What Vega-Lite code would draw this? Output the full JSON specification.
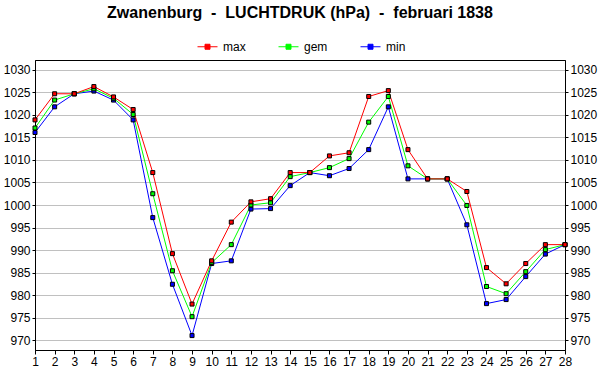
{
  "$schema": "https://vega.github.io/schema/vega-lite/v6.json",
  "autosize": {"type": "none"},
  "width": 530,
  "height": 290,
  "padding": {"left": 35, "top": 60, "right": 35, "bottom": 40},
  "background": "white",
  "config": {
    "font": "Liberation Sans",
    "view": {"stroke": "black", "strokeWidth": 1},
    "axis": {"labelFont": "Liberation Sans", "labelFontSize": 12, "labelColor": "black", "domainColor": "black", "tickColor": "black"}
  },
  "title": {
    "text": "Zwanenburg\u00a0\u00a0-\u00a0\u00a0LUCHTDRUK (hPa)\u00a0\u00a0-\u00a0\u00a0februari 1838",
    "font": "Liberation Sans",
    "fontSize": 16,
    "fontWeight": "bold",
    "color": "black",
    "anchor": "middle",
    "offset": 15
  },
  "data": {"values": [
    {"d":1,"t":"min","v":1016.1},{"d":2,"t":"min","v":1021.8},{"d":3,"t":"min","v":1024.7},{"d":4,"t":"min","v":1025.3},{"d":5,"t":"min","v":1023.3},{"d":6,"t":"min","v":1018.9},{"d":7,"t":"min","v":997.2},{"d":8,"t":"min","v":982.4},{"d":9,"t":"min","v":971.0},{"d":10,"t":"min","v":987.0},{"d":11,"t":"min","v":987.6},{"d":12,"t":"min","v":999.1},{"d":13,"t":"min","v":999.2},{"d":14,"t":"min","v":1004.3},{"d":15,"t":"min","v":1007.2},{"d":16,"t":"min","v":1006.5},{"d":17,"t":"min","v":1008.1},{"d":18,"t":"min","v":1012.3},{"d":19,"t":"min","v":1021.8},{"d":20,"t":"min","v":1005.8},{"d":21,"t":"min","v":1005.8},{"d":22,"t":"min","v":1005.8},{"d":23,"t":"min","v":995.6},{"d":24,"t":"min","v":978.1},{"d":25,"t":"min","v":979.0},{"d":26,"t":"min","v":984.1},{"d":27,"t":"min","v":989.1},{"d":28,"t":"min","v":991.2},
    {"d":1,"t":"gem","v":1017.1},{"d":2,"t":"gem","v":1023.3},{"d":3,"t":"gem","v":1024.7},{"d":4,"t":"gem","v":1025.8},{"d":5,"t":"gem","v":1023.7},{"d":6,"t":"gem","v":1020.1},{"d":7,"t":"gem","v":1002.5},{"d":8,"t":"gem","v":985.4},{"d":9,"t":"gem","v":975.2},{"d":10,"t":"gem","v":987.2},{"d":11,"t":"gem","v":991.2},{"d":12,"t":"gem","v":1000.0},{"d":13,"t":"gem","v":1000.5},{"d":14,"t":"gem","v":1006.3},{"d":15,"t":"gem","v":1007.2},{"d":16,"t":"gem","v":1008.3},{"d":17,"t":"gem","v":1010.3},{"d":18,"t":"gem","v":1018.4},{"d":19,"t":"gem","v":1024.1},{"d":20,"t":"gem","v":1008.7},{"d":21,"t":"gem","v":1005.8},{"d":22,"t":"gem","v":1005.8},{"d":23,"t":"gem","v":999.9},{"d":24,"t":"gem","v":981.9},{"d":25,"t":"gem","v":980.3},{"d":26,"t":"gem","v":985.2},{"d":27,"t":"gem","v":990.1},{"d":28,"t":"gem","v":991.2},
    {"d":1,"t":"max","v":1018.9},{"d":2,"t":"max","v":1024.7},{"d":3,"t":"max","v":1024.7},{"d":4,"t":"max","v":1026.3},{"d":5,"t":"max","v":1024.0},{"d":6,"t":"max","v":1021.2},{"d":7,"t":"max","v":1007.2},{"d":8,"t":"max","v":989.2},{"d":9,"t":"max","v":978.0},{"d":10,"t":"max","v":987.6},{"d":11,"t":"max","v":996.2},{"d":12,"t":"max","v":1000.7},{"d":13,"t":"max","v":1001.4},{"d":14,"t":"max","v":1007.2},{"d":15,"t":"max","v":1007.2},{"d":16,"t":"max","v":1010.9},{"d":17,"t":"max","v":1011.6},{"d":18,"t":"max","v":1024.1},{"d":19,"t":"max","v":1025.4},{"d":20,"t":"max","v":1012.3},{"d":21,"t":"max","v":1005.8},{"d":22,"t":"max","v":1005.8},{"d":23,"t":"max","v":1003.0},{"d":24,"t":"max","v":986.1},{"d":25,"t":"max","v":982.5},{"d":26,"t":"max","v":987.0},{"d":27,"t":"max","v":991.2},{"d":28,"t":"max","v":991.2}
  ]},
  "encoding": {
    "x": {
      "field": "d", "type": "quantitative",
      "scale": {"domain": [1, 28], "nice": false, "zero": false},
      "axis": {"title": null, "values": [1,2,3,4,5,6,7,8,9,10,11,12,13,14,15,16,17,18,19,20,21,22,23,24,25,26,27,28], "grid": false, "tickSize": 4, "labelPadding": 2, "labelFlush": false, "labelOverlap": false}
    }
  },
  "layer": [
    {
      "encoding": {
        "y": {
          "field": "v", "type": "quantitative",
          "scale": {"domain": [967.8, 1032.2], "nice": false, "zero": false},
          "axis": {"title": null, "orient": "left", "format": "d", "values": [970,975,980,985,990,995,1000,1005,1010,1015,1020,1025,1030], "grid": true, "gridColor": "#c0c0c0", "gridWidth": 1, "gridOpacity": 1, "tickSize": 3, "labelPadding": 2, "labelFlush": false, "labelOverlap": false}
        }
      },
      "layer": [
        {
          "mark": {"type": "line", "strokeWidth": 1},
          "encoding": {
            "color": {
              "field": "t", "type": "nominal",
              "scale": {"domain": ["max", "gem", "min"], "range": ["#ff0000", "#00ff00", "#0000ff"]},
              "legend": {
                "orient": "none", "legendX": 162, "legendY": -24, "direction": "horizontal", "title": null,
                "symbolType": "M-1,0H1M-0.25,-0.25H0.25V0.25H-0.25Z",
                "symbolSize": 400, "symbolStrokeWidth": 1, "symbolFillColor": null,
                "labelFont": "Liberation Sans", "labelFontSize": 12, "labelColor": "black", "labelOffset": 5,
                "columnPadding": 30
              }
            }
          }
        },
        {
          "mark": {"type": "point", "shape": "square", "filled": true, "size": 16, "stroke": "black", "strokeWidth": 1, "opacity": 1},
          "encoding": {
            "color": {"field": "t", "type": "nominal", "scale": {"domain": ["max", "gem", "min"], "range": ["#ff0000", "#00ff00", "#0000ff"]}, "legend": null}
          }
        }
      ]
    },
    {
      "mark": {"type": "point", "opacity": 0},
      "encoding": {
        "y": {
          "field": "v", "type": "quantitative",
          "scale": {"domain": [967.8, 1032.2], "nice": false, "zero": false},
          "axis": {"title": null, "orient": "right", "format": "d", "values": [970,975,980,985,990,995,1000,1005,1010,1015,1020,1025,1030], "grid": false, "tickSize": 3, "labelPadding": 2, "labelFlush": false, "labelOverlap": false}
        }
      }
    }
  ],
  "resolve": {"scale": {"y": "independent"}}
}
